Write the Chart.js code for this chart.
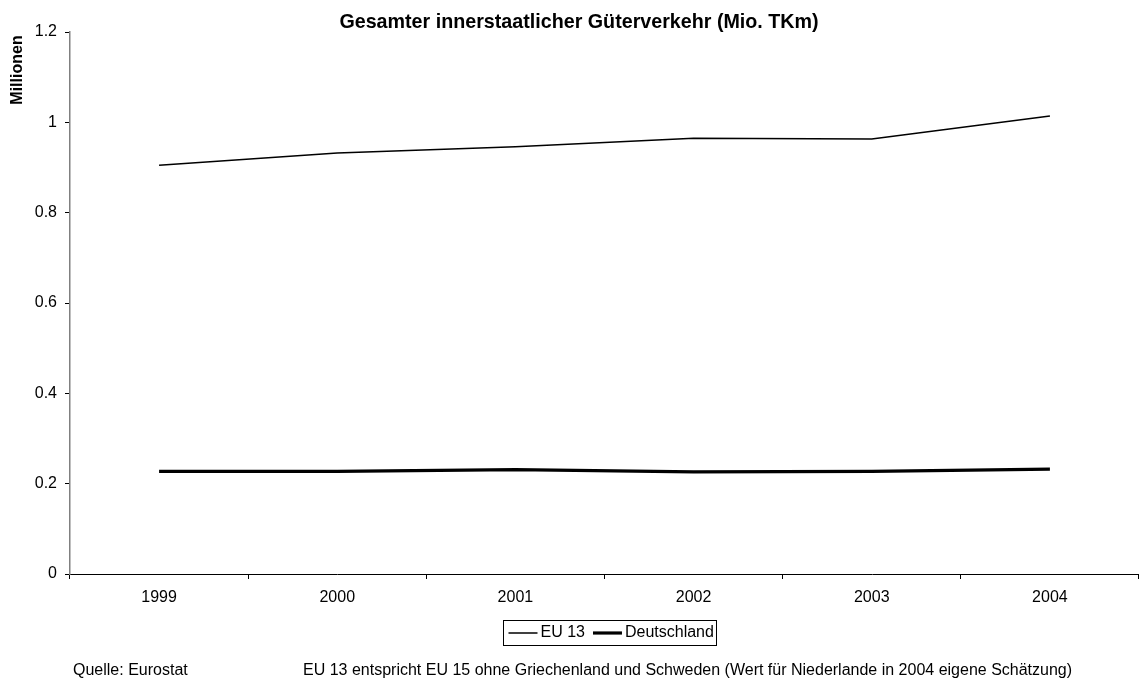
<!DOCTYPE html>
<html>
<head>
<meta charset="utf-8">
<script src="https://cdn.jsdelivr.net/npm/chart.js@4/dist/chart.umd.min.js"></script>
<style>
  html, body { margin: 0; padding: 0; background: #fff; }
  #c { display: block; }
</style>
</head>
<body>
<canvas id="c" width="1139" height="679"></canvas>
<script>
const categories = ['1999', '2000', '2001', '2002', '2003', '2004'];
const eu13 = [0.905, 0.932, 0.946, 0.965, 0.963, 1.014];
const deutschland = [0.227, 0.227, 0.231, 0.226, 0.227, 0.232];
const seriesNames = ['EU 13', 'Deutschland'];
const titleText = 'Gesamter innerstaatlicher Güterverkehr (Mio. TKm)';
const yTitleText = 'Millionen';
const sourceText = 'Quelle: Eurostat';
const noteText = 'EU 13 entspricht EU 15 ohne Griechenland und Schweden (Wert für Niederlande in 2004 eigene Schätzung)';

const FONT = '"Liberation Sans", Arial, sans-serif';

const decorPlugin = {
  id: 'decor',
  afterDraw(chart) {
    const ctx = chart.ctx;
    const area = chart.chartArea;
    ctx.save();
    ctx.fillStyle = '#000';
    // Title
    ctx.font = 'bold 19.7px ' + FONT;
    ctx.textAlign = 'center';
    ctx.textBaseline = 'middle';
    ctx.fillText(titleText, 579, 23);
    // Y title
    ctx.save();
    ctx.translate(18, 70);
    ctx.rotate(-Math.PI / 2);
    ctx.font = 'bold 16px ' + FONT;
    ctx.textAlign = 'center';
    ctx.textBaseline = 'middle';
    ctx.fillText(yTitleText, 0, 0);
    ctx.restore();
    // Footer
    ctx.font = '16px ' + FONT;
    ctx.textAlign = 'left';
    ctx.textBaseline = 'middle';
    ctx.fillText(sourceText, 73, 671);
    ctx.fillText(noteText, 303, 671);
    // Legend
    const ds = chart.data.datasets;
    const lineLen = 29, gapAfterLine = 3, itemGap = 8, padL = 5, padR = 3;
    const widths = ds.map(d => lineLen + gapAfterLine + ctx.measureText(d.label).width);
    const total = widths.reduce((a, b) => a + b, 0) + itemGap * (ds.length - 1) + padL + padR;
    const cx = 610;
    const boxL = Math.round(cx - total / 2) + 0.5;
    const boxT = 620.5, boxH = 25;
    ctx.strokeStyle = '#000';
    ctx.lineWidth = 1;
    ctx.strokeRect(boxL, boxT, Math.round(total), boxH);
    let x = boxL + padL;
    const ly = 633;
    ds.forEach((d, i) => {
      ctx.beginPath();
      ctx.strokeStyle = d.borderColor;
      ctx.lineWidth = d.borderWidth;
      ctx.moveTo(x, ly);
      ctx.lineTo(x + lineLen, ly);
      ctx.stroke();
      ctx.fillStyle = '#000';
      ctx.fillText(d.label, x + lineLen + gapAfterLine, ly);
      x += widths[i] + itemGap;
    });
    ctx.restore();
  }
};

new Chart(document.getElementById('c'), {
  type: 'line',
  data: {
    labels: categories,
    datasets: [
      { label: seriesNames[0], data: eu13, borderColor: '#000', borderWidth: 1.5, pointRadius: 0, tension: 0, fill: false },
      { label: seriesNames[1], data: deutschland, borderColor: '#000', borderWidth: 3.2, pointRadius: 0, tension: 0, fill: false }
    ]
  },
  options: {
    responsive: false,
    animation: false,
    devicePixelRatio: 1,
    layout: { padding: { top: 32, right: 0, bottom: 70, left: 0 } },
    plugins: { legend: { display: false }, title: { display: false }, tooltip: { enabled: false } },
    scales: {
      x: {
        type: 'category',
        offset: true,
        grid: { offset: true, drawOnChartArea: false, drawTicks: true, tickLength: 5, color: '#000' },
        border: { color: '#000', width: 1 },
        ticks: { color: '#000', font: { family: FONT, size: 16 }, padding: 9, maxRotation: 0, autoSkip: false },
        afterFit(scale) { scale.height = 35; }
      },
      y: {
        min: 0,
        max: 1.2,
        grid: { drawOnChartArea: false, drawTicks: true, tickLength: 5, color: '#000' },
        border: { color: '#808080', width: 1.5 },
        ticks: {
          stepSize: 0.2, color: '#000', font: { family: FONT, size: 16 }, padding: 8,
          callback: (v) => String(Math.round(v * 10) / 10)
        },
        afterFit(scale) { scale.width = 70; }
      }
    }
  },
  plugins: [decorPlugin]
});
</script>
</body>
</html>
